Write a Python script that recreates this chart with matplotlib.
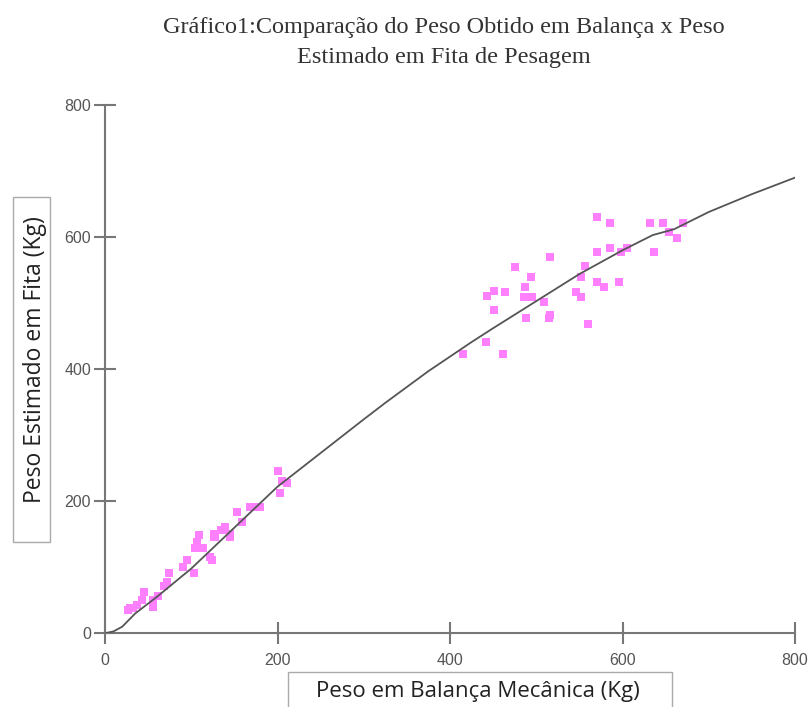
import matplotlib
matplotlib.use('Agg')
import matplotlib.pyplot as plt
from matplotlib.patches import Rectangle

# pontos: peso na balança (x) vs peso estimado na fita (y)
balanca = [27, 29, 33, 37, 43, 45, 56, 56, 62, 68, 72, 74, 74, 91, 95, 95, 103, 104, 107, 109,
           114, 122, 124, 126, 126, 128, 134, 137, 139, 145, 145, 153, 159, 168, 172, 180, 201,
           203, 205, 211,
           415, 442, 443, 451, 451, 462, 464, 475, 486, 487, 488, 494, 494, 495, 509, 515, 516,
           516, 546, 552, 552, 557, 560, 570, 571, 571, 578, 586, 586, 596, 598, 605, 632, 637,
           647, 654, 663, 670]
fita = [35, 38, 38, 43, 50, 63, 40, 50, 57, 72, 78, 91, 91, 101, 111, 111, 91, 129, 139, 149,
        129, 116, 111, 146, 151, 146, 156, 156, 161, 146, 151, 184, 169, 192, 192, 192, 246,
        213, 231, 227,
        423, 441, 511, 489, 518, 423, 517, 555, 510, 525, 477, 510, 540, 510, 502, 477, 570,
        482, 517, 540, 510, 556, 468, 532, 631, 577, 525, 622, 584, 532, 577, 584, 621, 577,
        621, 608, 599, 621]

# curva suavizada
curva_x = [0, 10, 20, 35, 60, 100, 150, 200, 250, 300, 325, 350, 375, 400, 425, 450, 500, 550,
           600, 635, 660, 700, 750, 800]
curva_y = [0, 3, 10, 30, 55, 98, 160, 222, 273, 324, 349, 373, 397, 419, 441, 462, 503, 544,
           580, 603, 612, 638, 665, 690]

fig = plt.figure(figsize=(8.11, 7.07), dpi=100)
ax = fig.add_axes([105 / 811, 1 - 633.3 / 707, 690 / 811, 528.3 / 707])

ax.scatter(balanca, fita, marker='s', s=40, color='#ff80ff', linewidths=0, zorder=2)
ax.plot(curva_x, curva_y, color='#555555', lw=1.3, zorder=3)

ax.set_xlim(0, 800)
ax.set_ylim(0, 800)
ax.set_xticks([0, 200, 400, 600, 800])
ax.set_yticks([0, 200, 400, 600, 800])
for s in ['top', 'right']:
    ax.spines[s].set_visible(False)
for s in ['left', 'bottom']:
    ax.spines[s].set_color('#777777')
    ax.spines[s].set_linewidth(1.5)
ax.tick_params(direction='inout', length=16, width=1.5, color='#777777',
               labelsize=11.5, labelcolor='#555555')
ax.tick_params(axis='x', pad=6)
ax.tick_params(axis='y', pad=2)
for lab in ax.get_xticklabels() + ax.get_yticklabels():
    lab.set_family('Liberation Sans')

# título
fig.text(444 / 811, 1 - 28 / 707, 'Gráfico1:Comparação do Peso Obtido em Balança x Peso',
         ha='center', va='center', fontsize=17.5, family='Liberation Serif', color='#333333')
fig.text(444 / 811, 1 - 57 / 707, 'Estimado em Fita de Pesagem',
         ha='center', va='center', fontsize=17.5, family='Liberation Serif', color='#333333')

# rótulos em caixas
fig.patches.append(Rectangle((288 / 811, -0.01), 384 / 811, (707 - 672) / 707 + 0.01,
                             transform=fig.transFigure, fill=False, ec='#aaaaaa', lw=1))
fig.text(478 / 811, 1 - 692 / 707, 'Peso em Balança Mecânica (Kg)', ha='center', va='center',
         fontsize=16, family='Open Sans', color='#222222')
fig.patches.append(Rectangle((13 / 811, 1 - 542 / 707), 37 / 811, 345 / 707,
                             transform=fig.transFigure, fill=False, ec='#aaaaaa', lw=1))
fig.text(35 / 811, 1 - 360 / 707, 'Peso Estimado em Fita (Kg)', ha='center', va='center',
         rotation=90, fontsize=16.5, family='Open Sans', color='#222222')

fig.savefig('out.png', dpi=100, facecolor='white')
